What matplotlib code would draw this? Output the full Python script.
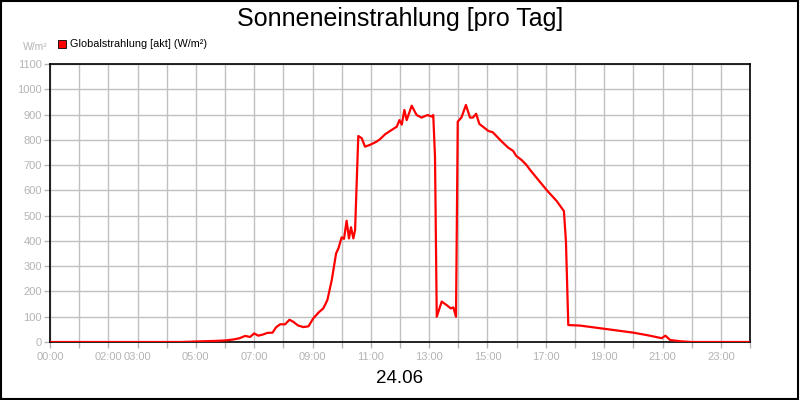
import matplotlib
matplotlib.use("Agg")
import matplotlib.pyplot as plt
from matplotlib.patches import Rectangle

plt.rcParams['font.family'] = ['Liberation Sans', 'DejaVu Sans']

# time of day in hours and global radiation in W/m²
hours = [0.0, 4.5, 5.0, 5.6, 6.0, 6.29, 6.5, 6.69, 6.86, 7.0, 7.14, 7.31, 7.45,
         7.63, 7.75, 7.89, 8.06, 8.21, 8.34, 8.51, 8.69, 8.86, 9.03, 9.22, 9.37,
         9.51, 9.66, 9.81, 9.89, 10.0, 10.08, 10.17, 10.25, 10.32, 10.4, 10.46,
         10.57, 10.69, 10.8, 10.97, 11.2, 11.31, 11.49, 11.66, 11.89, 11.98,
         12.06, 12.15, 12.23, 12.4, 12.57, 12.74, 12.94, 13.09, 13.14, 13.2,
         13.26, 13.43, 13.6, 13.74, 13.83, 13.92, 13.98, 14.11, 14.26, 14.4,
         14.5, 14.61, 14.72, 15.03, 15.18, 15.49, 15.71, 15.88, 15.98, 16.17,
         16.34, 16.46, 17.03, 17.37, 17.62, 17.69, 17.77, 18.17, 19.09, 20.0,
         20.57, 20.97, 21.1, 21.26, 21.6, 22.0, 24.0]
radiation = [0, 0, 2, 4, 6, 10, 15, 24, 20, 34, 25, 30, 36,
             37, 58, 70, 70, 88, 80, 65, 59, 62, 94, 118, 133,
             166, 245, 351, 371, 414, 408, 480, 410, 454, 410, 443,
             815, 806, 773, 780, 793, 802, 822, 835, 852, 878,
             860, 918, 878, 935, 898, 888, 898, 892, 898, 733,
             100, 160, 146, 133, 137, 100, 872, 889, 938, 888,
             888, 903, 863, 835, 830, 793, 769, 756, 737, 720,
             700, 681, 601, 558, 518, 397, 67, 65, 51, 37,
             25, 15, 25, 8, 3, 0, 0]

x_labels = {0: "00:00", 2: "02:00", 3: "03:00", 5: "05:00", 7: "07:00",
            9: "09:00", 11: "11:00", 13: "13:00", 15: "15:00", 17: "17:00",
            19: "19:00", 21: "21:00", 23: "23:00"}
y_ticks = list(range(0, 1200, 100))

gray = "#b4b4b4"

fig = plt.figure(figsize=(8, 4), dpi=100)
ax = fig.add_axes([0.0625, 0.145, 0.875, 0.695])

ax.plot(hours, radiation, color="#ff0000", linewidth=1.6, zorder=3)

ax.set_xlim(0, 24)
ax.set_ylim(0, 1100)
ax.set_xticks(range(0, 25))
ax.set_xticklabels([x_labels.get(h, "") for h in range(0, 25)])
ax.set_yticks(y_ticks)
ax.grid(True, color="#c0c0c0", linewidth=1)
ax.set_axisbelow(True)
ax.tick_params(axis="both", colors=gray, labelsize=8, length=4, width=1)
ax.tick_params(axis="x", pad=3)
ax.tick_params(axis="y", pad=2)
for spine in ax.spines.values():
    spine.set_color("black")
    spine.set_linewidth(1.2)

fig.text(0.5, 0.952, "Sonneneinstrahlung [pro Tag]", ha="center", va="center",
         fontsize=18)
fig.text(0.5, 0.053, "24.06", ha="center", va="center", fontsize=13.5)
fig.text(0.06, 0.882, "W/m²", ha="right", va="center", fontsize=7.5, color=gray)

# legend drawn by hand like the source chart
fig.patches.append(Rectangle((0.0725, 0.88), 0.010, 0.02, transform=fig.transFigure,
                             facecolor="#ff0000", edgecolor="black", linewidth=0.6))
fig.text(0.087, 0.89, "Globalstrahlung [akt] (W/m²)", ha="left", va="center",
         fontsize=7.8, color="black")

# outer frame
fig.patches.append(Rectangle((0.001, 0.002), 0.997, 0.995, transform=fig.transFigure,
                             facecolor="none", edgecolor="black", linewidth=1.5))

fig.savefig("out.png", dpi=100)
